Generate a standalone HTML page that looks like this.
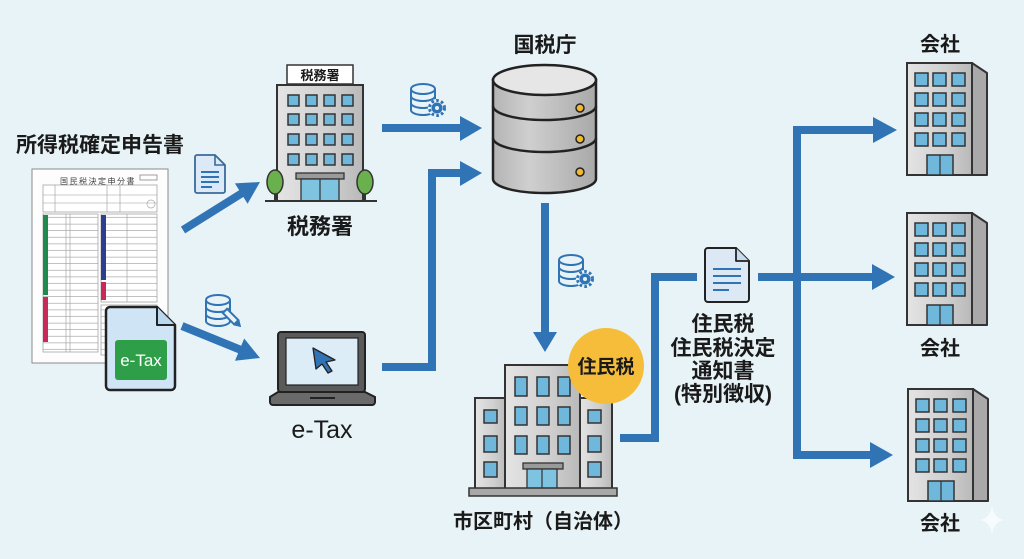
<!DOCTYPE html>
<html><head><meta charset="utf-8">
<style>
html,body{margin:0;padding:0;background:#e8f3f7;}
svg{display:block;}
text{font-family:"Liberation Sans","Noto Sans CJK JP",sans-serif;}
.b{font-weight:bold;fill:#1a1a1a;}
</style></head>
<body>
<svg width="1024" height="559" viewBox="0 0 1024 559" xmlns="http://www.w3.org/2000/svg">
<defs>
<linearGradient id="gb" x1="0" x2="1" y1="0" y2="0">
<stop offset="0" stop-color="#e4e4e4"/><stop offset="0.6" stop-color="#cfcfcf"/><stop offset="1" stop-color="#b9b9b9"/>
</linearGradient>
<linearGradient id="gc" x1="0" x2="1" y1="0" y2="0">
<stop offset="0" stop-color="#b4b4b4"/><stop offset="0.35" stop-color="#cfcfcf"/><stop offset="1" stop-color="#a9a9a9"/>
</linearGradient>
<pattern id="rows" width="10" height="6.6" patternUnits="userSpaceOnUse">
<rect width="10" height="6.6" fill="#fff"/><line x1="0" y1="6.3" x2="10" y2="6.3" stroke="#9a9a9a" stroke-width="0.6"/>
</pattern>
</defs>
<rect width="1024" height="559" fill="#e8f3f7"/>

<!-- Title -->
<text x="100" y="152" font-size="21" class="b" text-anchor="middle">所得税確定申告書</text>

<!-- Paper form -->
<rect x="32" y="169" width="136" height="194" fill="#fdfdfd" stroke="#8a8a8a" stroke-width="1"/>
<text x="98" y="184" font-size="8" text-anchor="middle" fill="#444" letter-spacing="1.5">国民税決定申分書</text>
<rect x="140" y="175" width="17" height="5" fill="none" stroke="#888" stroke-width="0.8"/>
<rect x="43" y="185" width="114" height="27" fill="#fff" stroke="#999" stroke-width="0.7"/>
<line x1="43" y1="195" x2="157" y2="195" stroke="#999" stroke-width="0.6"/>
<line x1="43" y1="203" x2="157" y2="203" stroke="#999" stroke-width="0.6"/>
<line x1="55" y1="185" x2="55" y2="212" stroke="#999" stroke-width="0.6"/>
<line x1="107" y1="185" x2="107" y2="212" stroke="#999" stroke-width="0.6"/>
<line x1="120" y1="185" x2="120" y2="212" stroke="#999" stroke-width="0.6"/>
<circle cx="151" cy="204" r="4" fill="none" stroke="#aaa" stroke-width="0.7"/>
<rect x="43" y="214" width="55" height="138" fill="url(#rows)" stroke="#999" stroke-width="0.7"/>
<line x1="66" y1="214" x2="66" y2="352" stroke="#999" stroke-width="0.6"/>
<line x1="70" y1="214" x2="70" y2="352" stroke="#999" stroke-width="0.6"/>
<rect x="101" y="214" width="56" height="88" fill="url(#rows)" stroke="#999" stroke-width="0.7"/>
<line x1="127" y1="214" x2="127" y2="302" stroke="#999" stroke-width="0.6"/>
<rect x="101" y="305" width="56" height="50" fill="url(#rows)" stroke="#999" stroke-width="0.7"/>
<rect x="43" y="215" width="5" height="80" fill="#1f8a4c"/>
<rect x="43" y="297" width="5" height="45" fill="#c8285a"/>
<rect x="101" y="215" width="5" height="65" fill="#2c3e8f"/>
<rect x="101" y="282" width="5" height="18" fill="#c8285a"/>

<!-- e-Tax file icon -->
<path d="M110,307 H157 L175,325 V386 a4,4 0 0 1 -4,4 H110 a4,4 0 0 1 -4,-4 V311 a4,4 0 0 1 4,-4 Z" fill="#cfe5f5" stroke="#222" stroke-width="2.5" stroke-linejoin="round"/>
<path d="M157,307 V325 H175" fill="#b9d7ee" stroke="#222" stroke-width="2" stroke-linejoin="round"/>
<rect x="115" y="340" width="52" height="40" rx="3" fill="#2e9e49"/>
<text x="141" y="366" font-size="17" fill="#fff" text-anchor="middle">e-Tax</text>

<!-- doc icon 1 -->
<g transform="translate(195,155)">
<path d="M2,0 H20 L30,10 V36 a2,2 0 0 1 -2,2 H2 a2,2 0 0 1 -2,-2 V2 a2,2 0 0 1 2,-2 Z" fill="#dbeaf6" stroke="#3a6a9a" stroke-width="1.8"/>
<path d="M20,0 V10 H30" fill="none" stroke="#3a6a9a" stroke-width="1.6"/>
<line x1="6" y1="17" x2="24" y2="17" stroke="#3174b5" stroke-width="2"/>
<line x1="6" y1="22" x2="24" y2="22" stroke="#3174b5" stroke-width="2"/>
<line x1="6" y1="27" x2="24" y2="27" stroke="#3174b5" stroke-width="2"/>
<line x1="6" y1="32" x2="17" y2="32" stroke="#3174b5" stroke-width="2"/>
</g>

<!-- db pencil icon -->
<g transform="translate(206,294)" fill="none" stroke="#3174b5" stroke-width="2">
<path d="M0,6 A12,5 0 0 1 24,6 V27 A12,5 0 0 1 0,27 Z" fill="#e8f3f7"/>
<path d="M0,6 A12,5 0 0 0 24,6"/>
<path d="M0,13 A12,5 0 0 0 24,13"/>
<path d="M0,20 A12,5 0 0 0 24,20"/>
<g transform="translate(26,24) rotate(-45)"><rect x="-3" y="-10" width="6" height="16" fill="#e8f3f7" stroke="#3174b5"/><path d="M-3,6 L0,11 L3,6" fill="#3174b5"/></g>
</g>

<!-- arrows from left -->
<g fill="#3174b5">
<line x1="183" y1="230" x2="243" y2="192.5" stroke="#3174b5" stroke-width="8"/>
<polygon points="260,182 247.6,203.8 234.9,183.4"/>
<line x1="182" y1="326" x2="241" y2="350" stroke="#3174b5" stroke-width="8"/>
<polygon points="260,358 235,360.7 244.2,338.5"/>
</g>

<!-- Tax office -->
<rect x="287" y="65" width="66" height="19" fill="#fff" stroke="#333" stroke-width="1.5"/>
<text x="320" y="80" font-size="13" class="b" text-anchor="middle">税務署</text>
<rect x="277" y="85" width="86" height="116" fill="url(#gb)" stroke="#333" stroke-width="2"/>
<g fill="#6fb8dc" stroke="#333" stroke-width="1.5">
<rect x="288" y="95" width="11" height="11"/><rect x="306" y="95" width="11" height="11"/><rect x="324" y="95" width="11" height="11"/><rect x="342" y="95" width="11" height="11"/>
<rect x="288" y="114" width="11" height="11"/><rect x="306" y="114" width="11" height="11"/><rect x="324" y="114" width="11" height="11"/><rect x="342" y="114" width="11" height="11"/>
<rect x="288" y="134" width="11" height="11"/><rect x="306" y="134" width="11" height="11"/><rect x="324" y="134" width="11" height="11"/><rect x="342" y="134" width="11" height="11"/>
<rect x="288" y="154" width="11" height="11"/><rect x="306" y="154" width="11" height="11"/><rect x="324" y="154" width="11" height="11"/><rect x="342" y="154" width="11" height="11"/>
</g>
<rect x="296" y="173" width="48" height="6" fill="#9a9a9a" stroke="#333" stroke-width="1.3"/>
<rect x="301" y="179" width="38" height="22" fill="#7ec3e0" stroke="#333" stroke-width="1.3"/>
<line x1="320" y1="179" x2="320" y2="201" stroke="#333" stroke-width="1.2"/>
<line x1="275" y1="190" x2="275" y2="201" stroke="#333" stroke-width="2"/>
<line x1="365" y1="190" x2="365" y2="201" stroke="#333" stroke-width="2"/>
<ellipse cx="275" cy="182" rx="8" ry="12" fill="#6ab04c" stroke="#333" stroke-width="1.5"/>
<ellipse cx="365" cy="182" rx="8" ry="12" fill="#6ab04c" stroke="#333" stroke-width="1.5"/>
<line x1="265" y1="201" x2="377" y2="201" stroke="#333" stroke-width="2"/>
<text x="320" y="234" font-size="22" class="b" text-anchor="middle">税務署</text>

<!-- Laptop -->
<rect x="278" y="332" width="87" height="60" rx="3" fill="#5a5a5a" stroke="#222" stroke-width="2"/>
<rect x="286" y="338" width="72" height="47" fill="#dcedf8" stroke="#222" stroke-width="1.2"/>
<path d="M270,397 L278,392 H365 L375,397 V402 a3,3 0 0 1 -3,3 H273 a3,3 0 0 1 -3,-3 Z" fill="#6a6a6a" stroke="#222" stroke-width="2"/>
<line x1="310" y1="398" x2="335" y2="398" stroke="#222" stroke-width="2"/>
<path d="M313,348 L335,360 L326,362 L332,371 L328,373 L322,364 L316,369 Z" fill="#3174b5" stroke="#222" stroke-width="1.3" stroke-linejoin="round"/>
<text x="322" y="438" font-size="25" fill="#1a1a1a" text-anchor="middle">e-Tax</text>

<!-- db gear icon 1 -->
<g transform="translate(411,83)">
<g fill="none" stroke="#3174b5" stroke-width="2">
<path d="M0,6 A12,5 0 0 1 24,6 V27 A12,5 0 0 1 0,27 Z" fill="#e8f3f7"/>
<path d="M0,6 A12,5 0 0 0 24,6"/>
<path d="M0,13 A12,5 0 0 0 24,13"/>
<path d="M0,20 A12,5 0 0 0 24,20"/>
</g>
<circle cx="26" cy="25" r="9" fill="#e8f3f7"/>
<circle cx="26" cy="25" r="7.5" fill="none" stroke="#3174b5" stroke-width="3" stroke-dasharray="2.6 2.3"/>
<circle cx="26" cy="25" r="5.5" fill="#3174b5"/>
<circle cx="26" cy="25" r="2" fill="#e8f3f7"/>
</g>

<!-- arrows to NTA -->
<g fill="#3174b5">
<line x1="382" y1="128" x2="462" y2="128" stroke="#3174b5" stroke-width="8"/>
<polygon points="460,116 482,128 460,141"/>
<polyline points="382,367 432,367 432,173 462,173" fill="none" stroke="#3174b5" stroke-width="8"/>
<polygon points="460,161 482,173 460,186"/>
</g>

<!-- NTA -->
<text x="545" y="52" font-size="21" class="b" text-anchor="middle">国税庁</text>
<path d="M493,80 V179 A51.5,14 0 0 0 596,179 V80 Z" fill="url(#gc)" stroke="#222" stroke-width="2.5"/>
<ellipse cx="544.5" cy="80" rx="51.5" ry="15" fill="#e6e6e6" stroke="#222" stroke-width="2.5"/>
<path d="M493,106 A51.5,14 0 0 0 596,106" fill="none" stroke="#222" stroke-width="2.5"/>
<path d="M493,138 A51.5,14 0 0 0 596,138" fill="none" stroke="#222" stroke-width="2.5"/>
<g fill="#f2b92f" stroke="#222" stroke-width="1.5">
<circle cx="580" cy="108" r="4"/><circle cx="580" cy="139" r="4"/><circle cx="580" cy="172" r="4"/>
</g>

<!-- arrow NTA -> city -->
<line x1="545" y1="203" x2="545" y2="334" stroke="#3174b5" stroke-width="8"/>
<polygon points="533,332 545,352 557,332" fill="#3174b5"/>

<!-- db gear icon 2 -->
<g transform="translate(559,254)">
<g fill="none" stroke="#3174b5" stroke-width="2">
<path d="M0,6 A12,5 0 0 1 24,6 V27 A12,5 0 0 1 0,27 Z" fill="#e8f3f7"/>
<path d="M0,6 A12,5 0 0 0 24,6"/>
<path d="M0,13 A12,5 0 0 0 24,13"/>
<path d="M0,20 A12,5 0 0 0 24,20"/>
</g>
<circle cx="26" cy="25" r="9" fill="#e8f3f7"/>
<circle cx="26" cy="25" r="7.5" fill="none" stroke="#3174b5" stroke-width="3" stroke-dasharray="2.6 2.3"/>
<circle cx="26" cy="25" r="5.5" fill="#3174b5"/>
<circle cx="26" cy="25" r="2" fill="#e8f3f7"/>
</g>

<!-- city building -->
<rect x="475" y="398" width="32" height="92" fill="url(#gb)" stroke="#333" stroke-width="2"/>
<rect x="580" y="398" width="32" height="92" fill="url(#gb)" stroke="#333" stroke-width="2"/>
<rect x="505" y="365" width="75" height="125" fill="url(#gb)" stroke="#333" stroke-width="2"/>
<g fill="#6fb8dc" stroke="#333" stroke-width="1.5">
<rect x="515" y="377" width="12" height="19"/><rect x="537" y="377" width="12" height="19"/><rect x="558" y="377" width="12" height="19"/>
<rect x="515" y="407" width="12" height="18"/><rect x="537" y="407" width="12" height="18"/><rect x="558" y="407" width="12" height="18"/>
<rect x="515" y="436" width="12" height="18"/><rect x="537" y="436" width="12" height="18"/><rect x="558" y="436" width="12" height="18"/>
<rect x="484" y="410" width="13" height="13"/><rect x="484" y="436" width="13" height="16"/><rect x="484" y="462" width="13" height="15"/>
<rect x="588" y="410" width="13" height="13"/><rect x="588" y="436" width="13" height="16"/><rect x="588" y="462" width="13" height="15"/>
</g>
<rect x="523" y="463" width="40" height="6" fill="#9a9a9a" stroke="#333" stroke-width="1.3"/>
<rect x="527" y="469" width="30" height="20" fill="#7ec3e0" stroke="#333" stroke-width="1.3"/>
<line x1="542" y1="469" x2="542" y2="489" stroke="#333" stroke-width="1.2"/>
<rect x="469" y="488" width="148" height="8" fill="#a8a8a8" stroke="#333" stroke-width="1.5"/>
<circle cx="606" cy="366" r="38" fill="#f5bd3a"/>
<text x="606" y="373" font-size="19" class="b" text-anchor="middle">住民税</text>
<text x="543" y="528" font-size="20" class="b" text-anchor="middle">市区町村（自治体）</text>

<!-- city -> doc -> companies -->
<polyline points="620,438 655,438 655,277 697,277" fill="none" stroke="#3174b5" stroke-width="8"/>
<line x1="758" y1="277" x2="874" y2="277" stroke="#3174b5" stroke-width="8"/>
<polyline points="876,130 797,130 797,455 872,455" fill="none" stroke="#3174b5" stroke-width="8"/>
<g fill="#3174b5">
<polygon points="873,117 897,130 873,143"/>
<polygon points="872,264 895,277 872,290"/>
<polygon points="870,442 893,455 870,468"/>
</g>

<!-- notice doc icon -->
<g transform="translate(705,248)">
<path d="M3,0 H31 L44,13 V51 a3,3 0 0 1 -3,3 H3 a3,3 0 0 1 -3,-3 V3 a3,3 0 0 1 3,-3 Z" fill="#dce9f5" stroke="#222" stroke-width="2"/>
<path d="M31,0 V13 H44" fill="#c6dbee" stroke="#222" stroke-width="1.8" stroke-linejoin="round"/>
<line x1="8" y1="21" x2="36" y2="21" stroke="#3174b5" stroke-width="2"/>
<line x1="8" y1="28" x2="36" y2="28" stroke="#3174b5" stroke-width="2"/>
<line x1="8" y1="35" x2="36" y2="35" stroke="#3174b5" stroke-width="2"/>
<line x1="8" y1="42" x2="24" y2="42" stroke="#3174b5" stroke-width="2"/>
</g>
<g font-size="21" class="b" text-anchor="middle">
<text x="723" y="331" class="b">住民税</text>
<text x="723" y="355" class="b">住民税決定</text>
<text x="723" y="378" class="b">通知書</text>
<text x="723" y="401" class="b">(特別徴収)</text>
</g>

<!-- companies -->
<g id="co1">
<polygon points="972,63 987,73 987,175 972,175" fill="#a9a9a9" stroke="#333" stroke-width="2" stroke-linejoin="round"/>
<rect x="907" y="63" width="65" height="112" fill="url(#gb)" stroke="#333" stroke-width="2"/>
<g fill="#6fb8dc" stroke="#333" stroke-width="1.5">
<rect x="915" y="73" width="13" height="13"/><rect x="933" y="73" width="13" height="13"/><rect x="952" y="73" width="13" height="13"/>
<rect x="915" y="93" width="13" height="13"/><rect x="933" y="93" width="13" height="13"/><rect x="952" y="93" width="13" height="13"/>
<rect x="915" y="113" width="13" height="13"/><rect x="933" y="113" width="13" height="13"/><rect x="952" y="113" width="13" height="13"/>
<rect x="915" y="133" width="13" height="13"/><rect x="933" y="133" width="13" height="13"/><rect x="952" y="133" width="13" height="13"/>
<rect x="927" y="155" width="26" height="20"/>
</g>
<line x1="940" y1="155" x2="940" y2="175" stroke="#333" stroke-width="1.2"/>
</g>
<g transform="translate(0,150)">
<polygon points="972,63 987,73 987,175 972,175" fill="#a9a9a9" stroke="#333" stroke-width="2" stroke-linejoin="round"/>
<rect x="907" y="63" width="65" height="112" fill="url(#gb)" stroke="#333" stroke-width="2"/>
<g fill="#6fb8dc" stroke="#333" stroke-width="1.5">
<rect x="915" y="73" width="13" height="13"/><rect x="933" y="73" width="13" height="13"/><rect x="952" y="73" width="13" height="13"/>
<rect x="915" y="93" width="13" height="13"/><rect x="933" y="93" width="13" height="13"/><rect x="952" y="93" width="13" height="13"/>
<rect x="915" y="113" width="13" height="13"/><rect x="933" y="113" width="13" height="13"/><rect x="952" y="113" width="13" height="13"/>
<rect x="915" y="133" width="13" height="13"/><rect x="933" y="133" width="13" height="13"/><rect x="952" y="133" width="13" height="13"/>
<rect x="927" y="155" width="26" height="20"/>
</g>
<line x1="940" y1="155" x2="940" y2="175" stroke="#333" stroke-width="1.2"/>
</g>
<g transform="translate(1,326)">
<polygon points="972,63 987,73 987,175 972,175" fill="#a9a9a9" stroke="#333" stroke-width="2" stroke-linejoin="round"/>
<rect x="907" y="63" width="65" height="112" fill="url(#gb)" stroke="#333" stroke-width="2"/>
<g fill="#6fb8dc" stroke="#333" stroke-width="1.5">
<rect x="915" y="73" width="13" height="13"/><rect x="933" y="73" width="13" height="13"/><rect x="952" y="73" width="13" height="13"/>
<rect x="915" y="93" width="13" height="13"/><rect x="933" y="93" width="13" height="13"/><rect x="952" y="93" width="13" height="13"/>
<rect x="915" y="113" width="13" height="13"/><rect x="933" y="113" width="13" height="13"/><rect x="952" y="113" width="13" height="13"/>
<rect x="915" y="133" width="13" height="13"/><rect x="933" y="133" width="13" height="13"/><rect x="952" y="133" width="13" height="13"/>
<rect x="927" y="155" width="26" height="20"/>
</g>
<line x1="940" y1="155" x2="940" y2="175" stroke="#333" stroke-width="1.2"/>
</g>
<text x="940" y="51" font-size="20" class="b" text-anchor="middle">会社</text>
<text x="940" y="355" font-size="20" class="b" text-anchor="middle">会社</text>
<text x="940" y="530" font-size="20" class="b" text-anchor="middle">会社</text>
<path d="M992,506 Q994,518 1004,520 Q994,522 992,534 Q990,522 980,520 Q990,518 992,506 Z" fill="#f6fbfd"/>
</svg>
</body></html>
